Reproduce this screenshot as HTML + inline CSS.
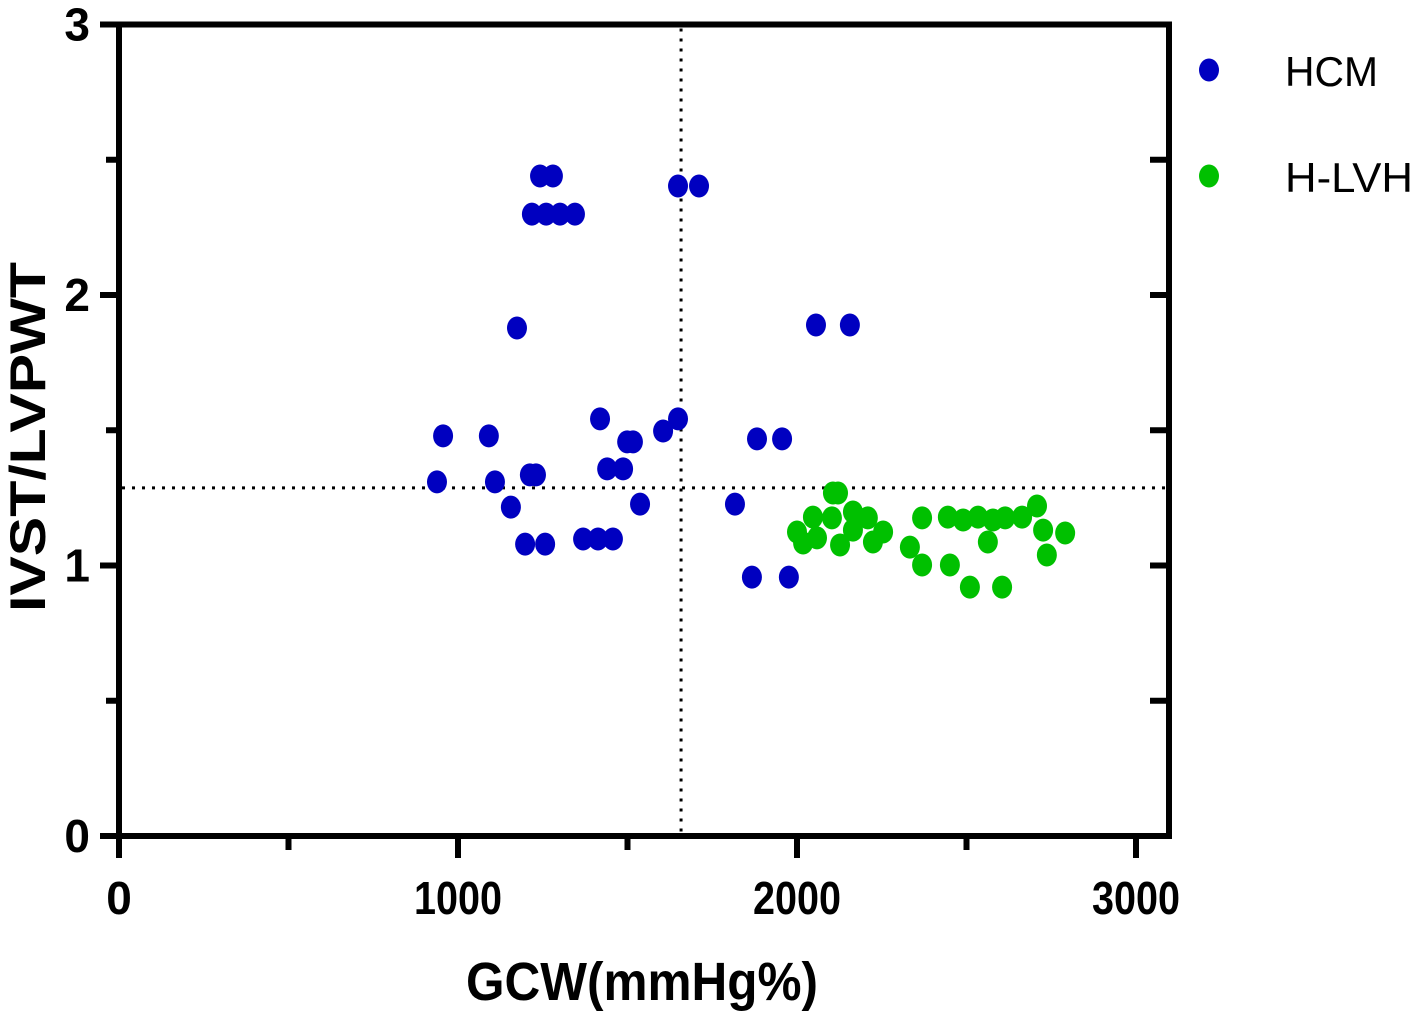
<!DOCTYPE html>
<html><head><meta charset="utf-8"><style>
html,body{margin:0;padding:0;background:#fff;}
svg{display:block;font-family:"Liberation Sans",Arial,sans-serif;}
</style></head><body>
<svg id="chart" width="1417" height="1014" viewBox="0 0 1417 1014" xmlns="http://www.w3.org/2000/svg">
<g id="axes"></g>
<g id="refs"></g>
<g id="pts"></g>
<text x="642" y="1000" text-anchor="middle" font-size="54" font-weight="bold" textLength="352" lengthAdjust="spacingAndGlyphs">GCW(mmHg%)</text>
<text transform="translate(45,437) rotate(-90)" text-anchor="middle" font-size="50" font-weight="bold" textLength="350" lengthAdjust="spacingAndGlyphs">IVST/LVPWT</text>
<g>
<ellipse cx="1209" cy="70" rx="10" ry="11.5" fill="#0000c0"/>
<text x="1285" y="86" font-size="42" textLength="93" lengthAdjust="spacingAndGlyphs">HCM</text>
<ellipse cx="1209" cy="176" rx="10" ry="11.5" fill="#00c000"/>
<text x="1285" y="192" font-size="42" textLength="128" lengthAdjust="spacingAndGlyphs">H-LVH</text>
</g>
</svg>
<script>
const xTicks=[0,1000,2000,3000];
const xTickLabels=["0","1000","2000","3000"];
const xMinor=[500,1500,2500];
const yTicks=[0,1,2,3];
const yTickLabels=["0","1","2","3"];
const yMinor=[0.5,1.5,2.5];
const refX=1658, refY=1.287;
const hcmX=[938,956,1091,1109,1156,1174,1198,1212,1230,1257,1242,1280,1218,1260,1301,1345,1369,1413,1457,1419,1440,1487,1499,1516,1537,1605,1649,1649,1711,1817,1867,1882,1956,1976,2056,2156];
const hcmY=[1.309,1.479,1.479,1.309,1.216,1.878,1.079,1.335,1.335,1.079,2.44,2.44,2.299,2.299,2.299,2.299,1.098,1.098,1.098,1.542,1.357,1.357,1.457,1.457,1.227,1.497,1.542,2.403,2.403,1.227,0.957,1.468,1.468,0.957,1.889,1.889];
const hlvhX=[2106,2121,2047,2103,2165,2209,2000,2018,2059,2127,2165,2224,2254,2333,2369,2369,2445,2451,2490,2534,2563,2578,2614,2664,2708,2726,2791,2737,2510,2605];
const hlvhY=[1.268,1.268,1.179,1.176,1.198,1.176,1.124,1.083,1.102,1.076,1.131,1.087,1.124,1.068,1.176,1.002,1.179,1.002,1.168,1.179,1.087,1.168,1.176,1.179,1.22,1.131,1.12,1.039,0.92,0.92];

const NS="http://www.w3.org/2000/svg";
const X0=119,XS=0.339,Y0=836,YS=270.5;
function sx(v){return X0+v*XS;}
function sy(v){return Y0-v*YS;}
function mk(tag,attrs,parent){const e=document.createElementNS(NS,tag);for(const k in attrs)e.setAttribute(k,attrs[k]);parent.appendChild(e);return e;}
const axes=document.getElementById('axes');
let e;
e=mk('path',{d:`M100 ${sy(3)} H1169 V${Y0} H${X0} V${sy(3)}`,fill:'none',stroke:'#000','stroke-width':6},axes);


xTicks.forEach((t,i)=>{
  e=mk('line',{x1:sx(t),x2:sx(t),y1:Y0,y2:Y0+22,stroke:'#000','stroke-width':6},axes);
  
  
  const lab=xTickLabels[i];
  const attrs={x:sx(t),y:Y0+78,'text-anchor':'middle','font-size':46,'font-weight':'bold'};
  if(lab.length>1){attrs.textLength=lab.length*22;attrs.lengthAdjust='spacingAndGlyphs';}
  e=mk('text',attrs,axes);
  e.textContent=lab;
  
  
});
xMinor.forEach(t=>{
  e=mk('line',{x1:sx(t),x2:sx(t),y1:Y0,y2:Y0+14,stroke:'#000','stroke-width':6},axes);
  
  
});
yTicks.forEach((t,i)=>{
  e=mk('line',{x1:100,x2:X0,y1:sy(t),y2:sy(t),stroke:'#000','stroke-width':6},axes);
  
  
  e=mk('line',{x1:1150,x2:1169,y1:sy(t),y2:sy(t),stroke:'#000','stroke-width':6},axes);
  
  
  e=mk('text',{x:90,y:sy(t)+16,'text-anchor':'end','font-size':46,'font-weight':'bold'},axes);
  e.textContent=yTickLabels[i];
  
  
});
yMinor.forEach(t=>{
  e=mk('line',{x1:106,x2:X0,y1:sy(t),y2:sy(t),stroke:'#000','stroke-width':6},axes);
  
  
  e=mk('line',{x1:1150,x2:1169,y1:sy(t),y2:sy(t),stroke:'#000','stroke-width':6},axes);
  
  
});
const refs=document.getElementById('refs');
e=mk('line',{x1:sx(refX),x2:sx(refX),y1:sy(3)+4,y2:Y0-3,stroke:'#000','stroke-width':3,'stroke-dasharray':'3 7'},refs);


e=mk('line',{x1:X0+3,x2:1166,y1:sy(refY),y2:sy(refY),stroke:'#000','stroke-width':3,'stroke-dasharray':'3 7'},refs);


const pts=document.getElementById('pts');
hcmX.forEach((x,i)=>{
  e=mk('ellipse',{cx:sx(x),cy:sy(hcmY[i]),rx:10,ry:11.5,fill:'#0000c0'},pts);
  
  
});
hlvhX.forEach((x,i)=>{
  e=mk('ellipse',{cx:sx(x),cy:sy(hlvhY[i]),rx:10,ry:11.5,fill:'#00c000'},pts);
  
  
});
</script>
</body></html>
